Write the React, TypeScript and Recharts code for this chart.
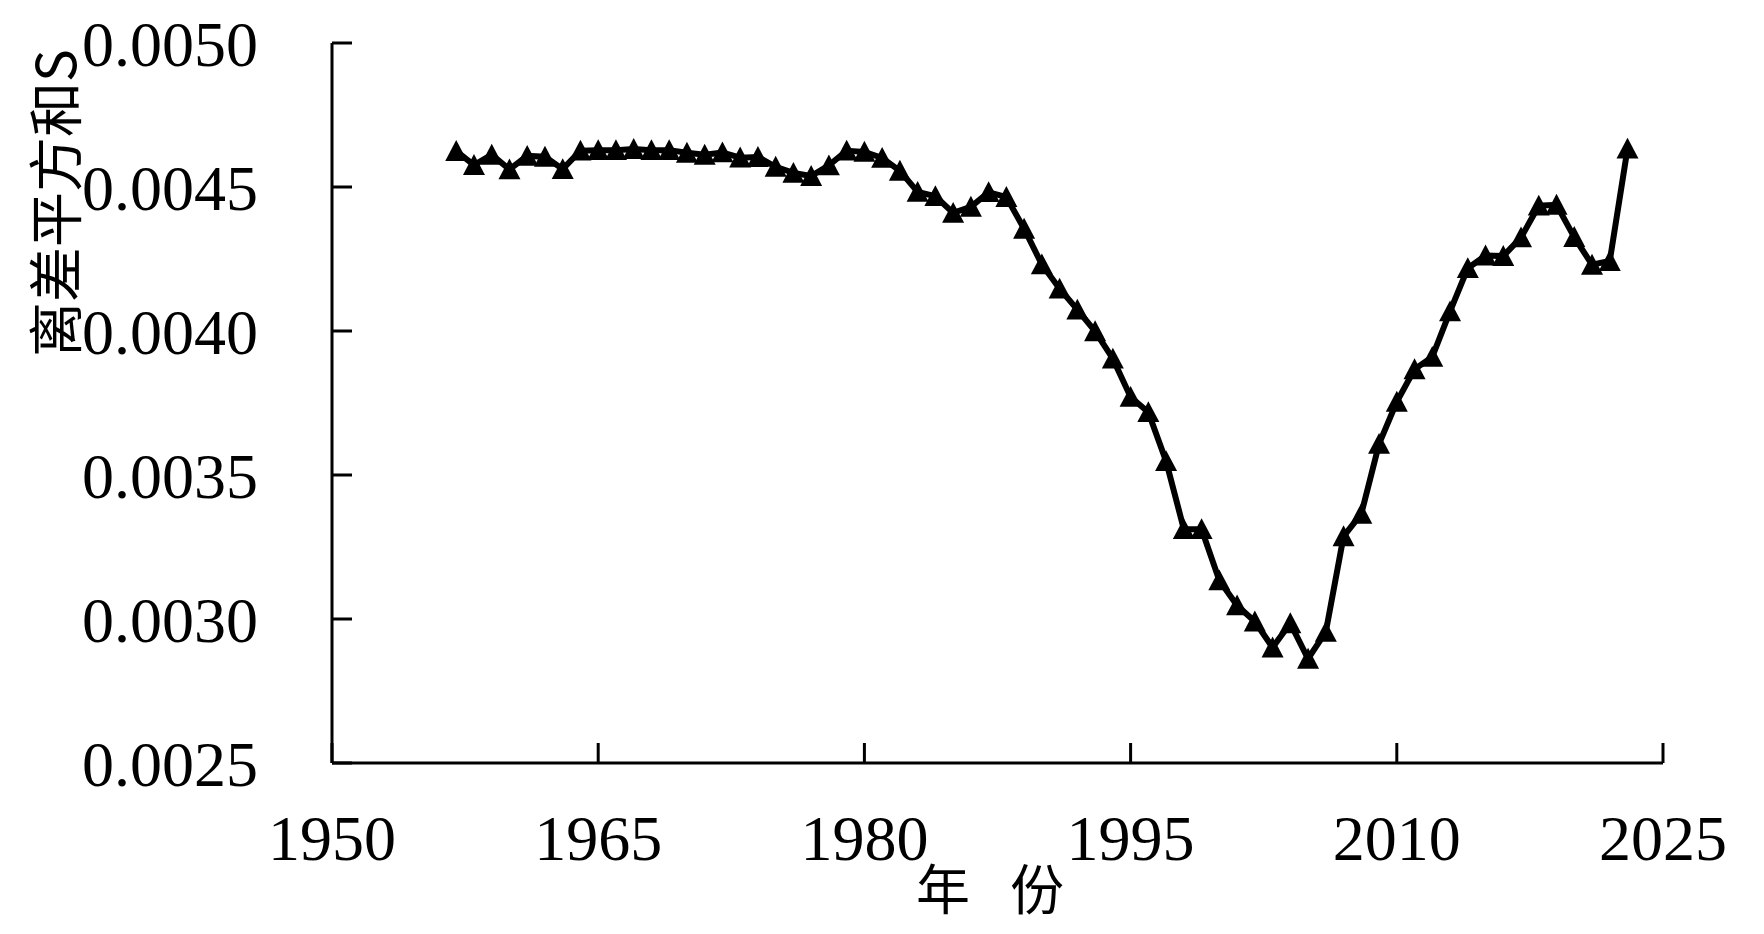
import React from "react";
import { LineChart, Line, XAxis, YAxis } from "recharts";

const years = [
  1957, 1958, 1959, 1960, 1961, 1962, 1963, 1964, 1965, 1966, 1967, 1968, 1969, 1970,
  1971, 1972, 1973, 1974, 1975, 1976, 1977, 1978, 1979, 1980, 1981, 1982, 1983, 1984,
  1985, 1986, 1987, 1988, 1989, 1990, 1991, 1992, 1993, 1994, 1995, 1996, 1997, 1998,
  1999, 2000, 2001, 2002, 2003, 2004, 2005, 2006, 2007, 2008, 2009, 2010, 2011, 2012,
  2013, 2014, 2015, 2016, 2017, 2018, 2019, 2020, 2021, 2022, 2023,
];

const sValues = [
  0.004625, 0.004576, 0.004612, 0.004561, 0.004608, 0.004605, 0.004562, 0.004626,
  0.004628, 0.004628, 0.004632, 0.004628, 0.004628, 0.004619, 0.004612, 0.00462,
  0.004602, 0.004604, 0.00457, 0.004549, 0.004538, 0.004575, 0.004626, 0.004622,
  0.004601, 0.004556, 0.004483, 0.004468, 0.00441, 0.004431, 0.004482, 0.004465,
  0.004355, 0.004231, 0.004147, 0.004074, 0.003999, 0.003904, 0.003771, 0.003718,
  0.003548, 0.003312, 0.003312, 0.003134, 0.003047, 0.002991, 0.002901, 0.002985,
  0.002862, 0.002955, 0.003287, 0.003365, 0.003608, 0.003754, 0.003867, 0.00391,
  0.004068, 0.004218, 0.004262, 0.00426, 0.004325, 0.004435, 0.004438, 0.004326,
  0.00423, 0.004243, 0.004633,
];

const xTicks = [1950, 1965, 1980, 1995, 2010, 2025];
const yTicks = [0.0025, 0.003, 0.0035, 0.004, 0.0045, 0.005];

const yLabel = "离差平方和S";
const xLabel = "年 份";

const data = years.map((y, i) => ({ year: y, s: sValues[i] }));

const serif = '"Times New Roman", "Liberation Serif", serif';
const cjk = '"Noto Sans CJK SC", sans-serif';

// filled triangle marker, centred on the point
function Triangle(props: any) {
  const { cx, cy } = props;
  if (cx == null || cy == null) return null;
  const r = 11;
  return (
    <path
      d={`M${cx},${cy - r} L${cx + r},${cy + r * 0.9} L${cx - r},${cy + r * 0.9} Z`}
      fill="#000"
      stroke="none"
    />
  );
}

function YTitle(props: any) {
  const vb = props.viewBox || {};
  const x = 52;
  const y = vb.y + 160;
  return (
    <text
      x={x}
      y={y}
      transform={`rotate(-90 ${x} ${y})`}
      textAnchor="middle"
      dominantBaseline="central"
      fontFamily={cjk}
      fontSize={55}
      fill="#000"
    >
      {yLabel}
    </text>
  );
}

function XTitle(props: any) {
  const vb = props.viewBox || {};
  return (
    <text
      x={vb.x + 665}
      y={vb.y + 123}
      textAnchor="middle"
      dominantBaseline="central"
      fontFamily={cjk}
      fontSize={54}
      letterSpacing={14}
      fill="#000"
    >
      {xLabel}
    </text>
  );
}

export default function App() {
  return (
    <div style={{ width: 1764, height: 934, background: "#fff" }}>
      <style>{`body{margin:0;background:#fff}`}</style>
      <LineChart
        width={1764}
        height={934}
        data={data}
        margin={{ top: 43, right: 101, bottom: 0, left: 0 }}
      >
        <XAxis
          dataKey="year"
          type="number"
          domain={[1950, 2025]}
          ticks={xTicks}
          height={171}
          tickSize={-20}
          tickMargin={72}
          axisLine={{ stroke: "#000", strokeWidth: 3 }}
          tickLine={{ stroke: "#000", strokeWidth: 3 }}
          tick={{ fill: "#000", fontSize: 64, fontFamily: serif }}
          interval={0}
          label={<XTitle />}
        />
        <YAxis
          type="number"
          domain={[0.0025, 0.005]}
          ticks={yTicks}
          width={332}
          tickSize={-20}
          tickMargin={94}
          tickFormatter={(v: number) => v.toFixed(4)}
          axisLine={{ stroke: "#000", strokeWidth: 3 }}
          tickLine={{ stroke: "#000", strokeWidth: 3 }}
          tick={{ fill: "#000", fontSize: 64, fontFamily: serif }}
          interval={0}
          label={<YTitle />}
        />
        <Line
          type="linear"
          dataKey="s"
          stroke="#000"
          strokeWidth={6}
          dot={<Triangle />}
          activeDot={false}
          isAnimationActive={false}
        />
      </LineChart>
    </div>
  );
}
